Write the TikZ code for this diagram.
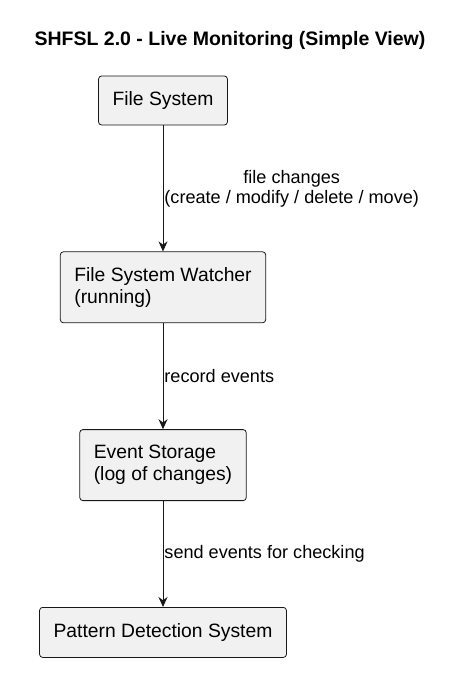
\documentclass[tikz,border=0pt]{standalone}
\usepackage{fontspec}
\setmainfont{Liberation Sans}
\usepackage{tikz}
\usetikzlibrary{
	arrows.meta,
	positioning,
	calc,
}
\definecolor{boxfill}{HTML}{F1F1F1}
\definecolor{boxline}{HTML}{181818}
\tikzset{component/.style={
		% The shape:
		rectangle,
		rounded corners=3pt,
		% The size:
		minimum height=49pt,
		inner xsep=14pt,
		% The border:
		line width=0.8pt,
		draw=boxline,
		fill=boxfill,
		% The text:
		align=left,
		font=\fontsize{19.3}{22}\selectfont,
}}
\tikzset{flowlabel/.style={
		right,
		inner xsep=1pt,
		align=center,
		font=\fontsize{18.1}{20}\selectfont,
}}

\begin{document}
\begin{tikzpicture}[
	x=1pt,y=1pt,
	>= {Stealth[length=10pt,width=9pt]},line width=0.9pt,boxline,
	text=black,
	node distance = 106pt,
	]
	\useasboundingbox (0,0) rectangle (475,-694);
	
	%% title
	\node (title) at (230,-40) {\fontsize{19.5}{22}\selectfont\bfseries SHFSL 2.0 - Live Monitoring (Simple View)};
	
	%% components
	\node (fs)[component] at (163,-100.5) {File System};
	\node (watcher)[component,minimum height=71pt] [below=126pt of fs] {File System Watcher\\(running)};
	\node (storage)[component,minimum height=71pt] [below=of watcher] {Event Storage\\(log of changes)};
	\node (detect)[component,minimum height=50pt] [below=of storage] {Pattern Detection System};
	
	%% flows
	\draw[->] (fs) to node[flowlabel] {file changes\\(create / modify / delete / move)} (watcher);
	\draw[->] (watcher) to node[flowlabel] {record events} (storage);
	\draw[->] (storage) to node[flowlabel] {send events for checking} (detect);
	
\end{tikzpicture}
\end{document}
